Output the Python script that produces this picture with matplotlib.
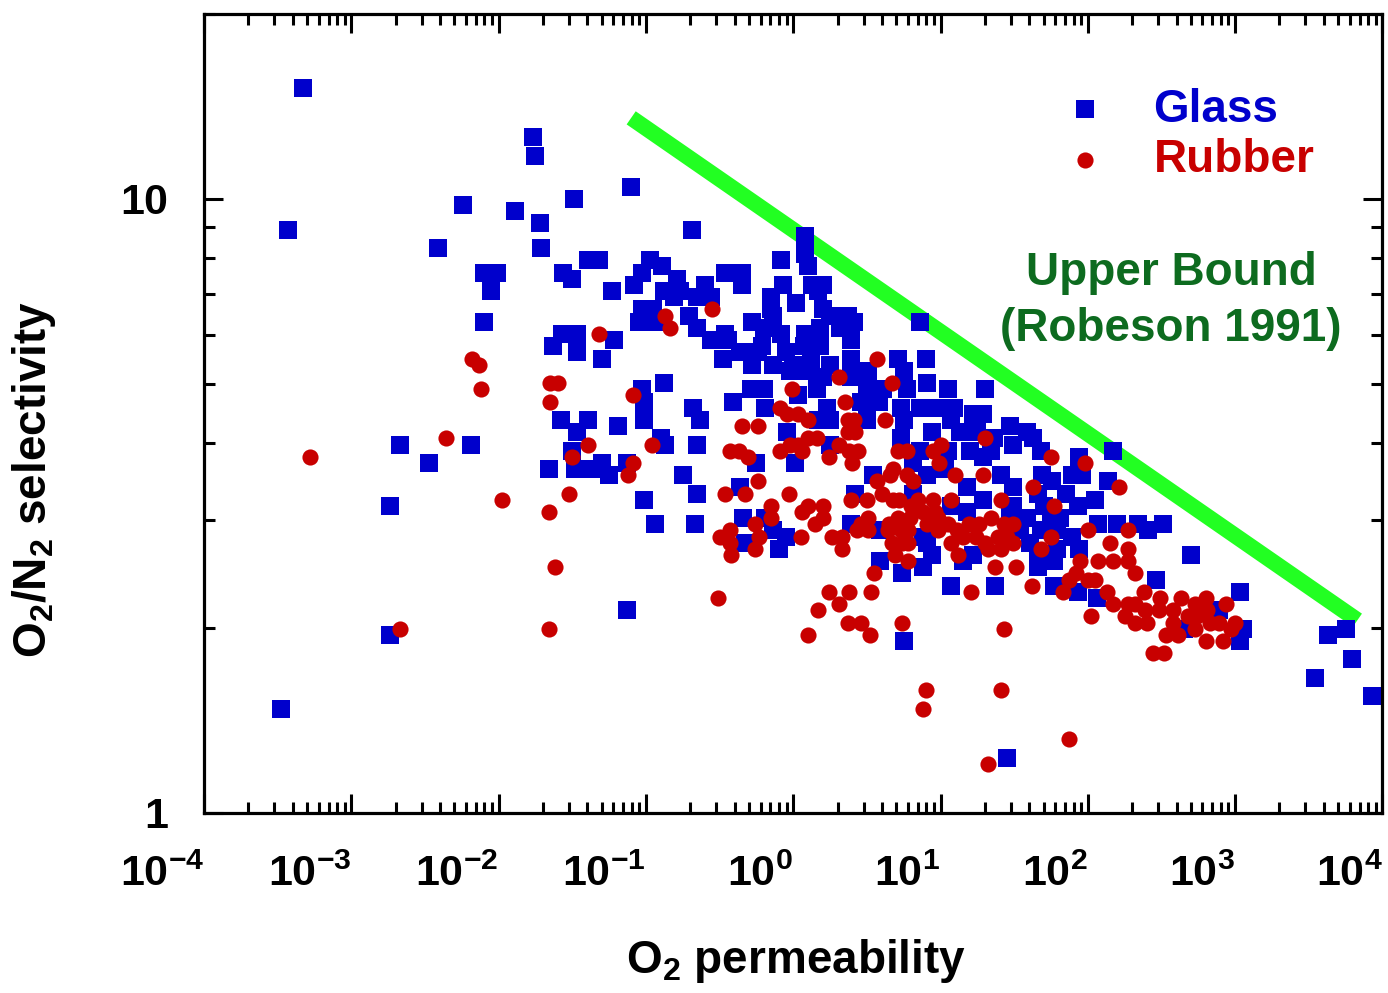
import numpy as np
import matplotlib
matplotlib.use('Agg')
from matplotlib import pyplot as plt

plt.rcParams['font.family'] = ['Liberation Sans', 'DejaVu Sans']
plt.rcParams['font.weight'] = 'bold'
plt.rcParams['mathtext.fontset'] = 'custom'
plt.rcParams['mathtext.rm'] = 'Liberation Sans:bold'
plt.rcParams['mathtext.bf'] = 'Liberation Sans:bold'
plt.rcParams['mathtext.it'] = 'Liberation Sans:bold:italic'
plt.rcParams['mathtext.default'] = 'rm'

# log10 of O2 permeability / O2/N2 selectivity
glass_logP = [
    -3.33, -2.24, -3.43, -2.41, -2.10, -2.01, -2.05, -2.10, -2.67, -2.19, -2.47, -2.74, -2.74, -3.48,
    -1.77, -1.75, -1.10, -1.49, -1.89, -1.72, -1.71, -0.69, -1.39, -1.32, -0.97, -0.89, -1.03, -1.56,
    -1.50, -1.08, -1.23, -0.79, -0.88, -0.77, -0.81, -0.65, -1.03, -0.95, -0.71, -1.05, -0.94, -0.65,
    -1.57, -1.47, -1.63, -1.47, -1.22, -1.30, -0.88, -1.03, -1.01, -0.68, -0.63, -1.58, -1.39, -1.47,
    -1.19, -1.01, -0.90, -0.87, -0.65, -1.50, -1.30, -1.13,
    -1.66, -1.48, -1.37, -1.25, -0.75, -0.65, -1.01, -0.94, -0.67, -1.13,
    0.08, 0.08, 0.10, -0.08, -0.46, -0.35, -0.35, -0.60, -0.07, -0.15, 0.13, 0.20, 0.17, -0.56,
    -0.15, 0.02, 0.20, 0.37, 0.25, -0.14, -0.28, -0.46, -0.20, -0.08, 0.08, -0.56, -0.44, 0.18,
    0.32, 0.41, -0.36, -0.21, -0.48, -0.05, 0.07, 0.18, 0.39, -0.24, -0.28, -0.14, 0.00, 0.12,
    0.25, 0.39, -0.02, 0.10, 0.20, 0.39, -0.29, -0.20, 0.03, 0.16, -0.41, -0.19, 0.23, 0.17,
    0.25, -0.04, 0.25,
    -0.25, 0.01, -0.36, 0.42, -0.34, -0.19, -0.33, -0.14, -0.05, -0.10, 0.39,
    0.86, 0.90, 0.71, 0.75, 0.91, 1.05, 1.30, 0.51, 0.50, 0.61, 0.77, 0.46, 0.58, 0.73,
    0.86, 0.98, 1.09, 1.22, 1.29, 1.47, 0.50, 0.75, 0.94, 1.07, 1.13, 1.25, 1.36, 1.49,
    0.73, 0.86, 1.05, 1.20, 1.34, 0.81, 1.03, 1.29, 0.54, 0.91, 1.41,
    1.49, 0.81, 1.18, 1.07, 1.29, 1.47, 1.18, 0.59, 0.88, 0.91, 0.94, 1.22, 0.59, 0.74,
    0.88, 1.15, 1.07, 1.37, 0.75, 1.45,
    2.17, 1.59, 1.63, 1.68, 1.94, 1.69, 1.76, 1.89, 1.96, 2.14, 1.66, 1.85, 2.05, 1.49,
    1.70, 1.93, 1.59, 1.75, 1.81, 2.07, 2.20, 2.34, 2.41, 2.51, 1.54, 1.68, 1.79, 1.89,
    1.61, 1.79, 1.94, 1.66, 1.77, 1.66, 2.46,
    1.77, 1.93, 2.06,
    2.70, 3.03, 2.89, 3.05, 3.03, 2.65, 3.63, 3.75, 3.79, 3.54, 3.93,
]
glass_logS = [
    1.18, 0.99, 0.95, 0.92, 0.88, 0.88, 0.85, 0.80, 0.60, 0.60, 0.57, 0.50, 0.29, 0.17,
    1.10, 1.07, 1.02, 1.00, 0.98, 0.96, 0.92, 0.95, 0.90, 0.90, 0.90, 0.89, 0.88, 0.88,
    0.87, 0.86, 0.85, 0.87, 0.85, 0.85, 0.84, 0.84, 0.82, 0.82, 0.81, 0.80, 0.80, 0.79,
    0.78, 0.78, 0.76, 0.75, 0.77, 0.74, 0.70, 0.69, 0.67, 0.66, 0.64, 0.64, 0.64, 0.62,
    0.63, 0.64, 0.61, 0.60, 0.60, 0.59, 0.57, 0.57,
    0.56, 0.56, 0.56, 0.55, 0.55, 0.52, 0.51, 0.47, 0.47, 0.33,
    0.94, 0.91, 0.89, 0.90, 0.88, 0.88, 0.86, 0.86, 0.86, 0.84, 0.86, 0.86, 0.85, 0.84,
    0.82, 0.83, 0.82, 0.81, 0.81, 0.81, 0.80, 0.78, 0.79, 0.78, 0.78, 0.77, 0.77, 0.79,
    0.79, 0.80, 0.75, 0.76, 0.74, 0.75, 0.76, 0.76, 0.77, 0.75, 0.73, 0.73, 0.73, 0.74,
    0.73, 0.74, 0.72, 0.72, 0.71, 0.71, 0.69, 0.69, 0.68, 0.69, 0.67, 0.66, 0.66, 0.64,
    0.64, 0.62, 0.60,
    0.57, 0.57, 0.53, 0.52, 0.48, 0.48, 0.44, 0.46, 0.45, 0.43, 0.47,
    0.80, 0.74, 0.74, 0.72, 0.70, 0.69, 0.69, 0.72, 0.69, 0.69, 0.69, 0.67, 0.67, 0.66,
    0.66, 0.66, 0.66, 0.65, 0.65, 0.63, 0.64, 0.64, 0.62, 0.64, 0.62, 0.62, 0.61, 0.60,
    0.61, 0.59, 0.59, 0.59, 0.59, 0.57, 0.56, 0.58, 0.55, 0.55, 0.55,
    0.53, 0.52, 0.53, 0.50, 0.51, 0.49, 0.49, 0.46, 0.45, 0.44, 0.42, 0.42, 0.41, 0.39,
    0.40, 0.41, 0.37, 0.37, 0.28, 0.09,
    0.59, 0.62, 0.61, 0.59, 0.58, 0.55, 0.54, 0.55, 0.55, 0.54, 0.52, 0.52, 0.51, 0.50,
    0.50, 0.50, 0.48, 0.48, 0.48, 0.47, 0.47, 0.47, 0.46, 0.47, 0.46, 0.46, 0.46, 0.45,
    0.44, 0.43, 0.43, 0.42, 0.41, 0.40, 0.38,
    0.37, 0.36, 0.35,
    0.42, 0.36, 0.33, 0.30, 0.28, 0.30, 0.29, 0.30, 0.25, 0.22, 0.19,
]

rubber_logP = [
    -2.18, -2.13, -2.12, -2.36, -3.28, -1.98, -2.67,
    -0.87, -0.84, -1.32, -1.65, -1.60, -1.65, -1.09, -1.39, -0.96, -1.50, -1.09, -1.12, -1.52,
    -1.66, -1.62, -1.66,
    -0.55, 0.31, -0.01, 0.35, -0.09, -0.04, 0.03, 0.10, 0.37, 0.41, -0.35, -0.24, 0.37, -0.43,
    -0.37, -0.31, -0.09, -0.02, 0.03, 0.10, 0.16, 0.06, 0.31, 0.38, 0.24, 0.40,
    -0.24, -0.46, -0.33, -0.03, 0.39, -0.15, -0.15, 0.10, 0.06, 0.20, 0.15, 0.20, -0.43, -0.50,
    -0.43, -0.26, -0.23, -0.26, -0.42, 0.05, 0.26, 0.33, 0.33, 0.43, -0.51, 0.24, 0.38, 0.17,
    0.31, 0.37, 0.10, 0.46,
    0.57, 0.67, 0.42, 0.62, 1.30, 0.71, 0.77, 0.95, 1.00, 0.99, 0.44, 0.68, 0.77, 1.10,
    1.29, 0.57,
    0.66, 0.81, 0.60, 0.50, 0.68, 0.72, 0.85, 0.80, 0.95, 1.07, 1.41, 0.88, 0.96, 0.46,
    0.51, 0.51, 0.65, 0.71, 0.79, 0.64, 0.73, 0.78, 0.91, 0.98, 1.05, 0.98, 0.67, 0.74,
    0.78, 1.07, 1.11, 1.19, 1.26, 1.34, 1.43, 1.49, 1.15, 1.24, 1.30, 1.39, 1.45, 1.49,
    1.32, 1.41, 1.12, 0.69, 0.78, 0.55, 1.37, 1.51, 0.53, 1.21, 0.52, 0.74, 1.43, 0.90,
    0.88, 1.41, 1.32,
    1.75, 1.98, 2.21, 1.63, 1.77, 2.27, 2.00, 1.75, 1.68, 2.15, 2.27, 1.95, 2.07, 2.17,
    2.27, 1.92, 2.00, 2.05, 2.32,
    1.87, 1.83, 2.13, 1.62, 2.17, 2.02, 2.27, 2.32, 2.25, 2.32, 2.40, 2.39, 2.38, 2.49,
    2.48, 2.58, 2.58, 2.53, 2.61, 2.44, 2.52, 1.87, 2.63,
    2.80, 2.73, 2.81, 2.94, 2.68, 2.74, 2.83, 2.89, 3.00, 2.73, 2.80, 2.92, 2.97,
]
rubber_logS = [
    0.74, 0.73, 0.69, 0.61, 0.58, 0.51, 0.30,
    0.81, 0.79, 0.78, 0.70, 0.70, 0.67, 0.68, 0.60, 0.60, 0.58, 0.57, 0.55, 0.52,
    0.49, 0.40, 0.30,
    0.82, 0.71, 0.69, 0.67, 0.66, 0.65, 0.65, 0.64, 0.64, 0.64, 0.63, 0.63, 0.62, 0.59,
    0.59, 0.58, 0.59, 0.60, 0.60, 0.61, 0.61, 0.59, 0.60, 0.59, 0.58, 0.57,
    0.54, 0.52, 0.52, 0.52, 0.51, 0.50, 0.48, 0.50, 0.49, 0.50, 0.47, 0.48, 0.46, 0.45,
    0.44, 0.47, 0.45, 0.43, 0.42, 0.45, 0.45, 0.45, 0.43, 0.46, 0.35, 0.36, 0.36, 0.33,
    0.34, 0.31, 0.29, 0.31,
    0.74, 0.70, 0.62, 0.64, 0.61, 0.59, 0.59, 0.59, 0.60, 0.57, 0.59, 0.56, 0.55, 0.55,
    0.55, 0.54,
    0.55, 0.54, 0.52, 0.51, 0.51, 0.51, 0.51, 0.50, 0.51, 0.51, 0.51, 0.49, 0.49, 0.47,
    0.48, 0.46, 0.47, 0.48, 0.48, 0.46, 0.46, 0.46, 0.47, 0.48, 0.47, 0.46, 0.44, 0.44,
    0.44, 0.44, 0.46, 0.47, 0.47, 0.48, 0.47, 0.47, 0.45, 0.45, 0.44, 0.45, 0.45, 0.44,
    0.43, 0.43, 0.42, 0.42, 0.41, 0.39, 0.40, 0.40, 0.36, 0.36, 0.29, 0.31, 0.30, 0.20,
    0.17, 0.20, 0.08,
    0.58, 0.57, 0.53, 0.53, 0.50, 0.46, 0.46, 0.45, 0.43, 0.44, 0.43, 0.41, 0.41, 0.41,
    0.41, 0.39, 0.38, 0.38, 0.39,
    0.38, 0.36, 0.36, 0.37, 0.34, 0.32, 0.34, 0.34, 0.32, 0.31, 0.31, 0.33, 0.36, 0.35,
    0.33, 0.33, 0.31, 0.29, 0.29, 0.26, 0.26, 0.12, 0.35,
    0.35, 0.34, 0.33, 0.34, 0.32, 0.32, 0.31, 0.31, 0.31, 0.30, 0.28, 0.28, 0.30,
]

# Robeson 1991 upper bound, end points
bound_P = [0.0794, 6760.0]
bound_sel = [13.55, 2.06]

x_ticks = [1e-4, 1e-3, 1e-2, 1e-1, 1e0, 1e1, 1e2, 1e3, 1e4]
x_ticklabels = [r'$10^{-4}$', r'$10^{-3}$', r'$10^{-2}$', r'$10^{-1}$', r'$10^{0}$',
                r'$10^{1}$', r'$10^{2}$', r'$10^{3}$', r'$10^{4}$']
y_ticks = [1, 10]
y_ticklabels = ['1', '10']

BLUE = '#0000cc'
RED = '#c80000'
GREEN_LINE = '#22ff22'
GREEN_TEXT = '#0d6b1f'

fig = plt.figure(figsize=(13.88, 9.93), dpi=100)
ax = fig.add_axes([0.147, 0.1813, 0.849, 0.8046])

ax.plot(bound_P, bound_sel, color=GREEN_LINE, lw=11.5, solid_capstyle='butt', zorder=1)
ax.scatter(10 ** np.array(glass_logP), 10 ** np.array(glass_logS), marker='s', s=150,
           color=BLUE, linewidths=0, zorder=2, label='Glass')
ax.scatter(10 ** np.array(rubber_logP), 10 ** np.array(rubber_logS), marker='o', s=135,
           color=RED, linewidths=0, zorder=3, label='Rubber')

ax.set_xscale('log')
ax.set_yscale('log')
ax.set_xlim(1e-4, 1e4)
ax.set_ylim(1, 20)

ax.set_xticks(x_ticks)
ax.set_xticklabels(x_ticklabels, ha='right')
ax.set_yticks(y_ticks)
ax.set_yticklabels(y_ticklabels)

for s in ax.spines.values():
    s.set_linewidth(2.3)
ax.tick_params(which='both', direction='in', top=True, right=True, width=2.2)
ax.tick_params(which='major', length=14)
ax.tick_params(which='minor', length=8)
ax.tick_params(axis='x', which='major', labelsize=31, pad=30)
ax.tick_params(axis='y', which='major', labelsize=31, pad=26)
ax.tick_params(axis='y', which='minor', labelleft=False)

ax.set_xlabel(r'O$_2$ permeability', fontsize=33, fontweight='bold')
ax.set_ylabel(r'O$_2$/N$_2$ selectivity', fontsize=33, fontweight='bold')
ax.xaxis.set_label_coords(0.502, -0.155)
ax.yaxis.set_label_coords(-0.124, 0.417)

ax.text(0.821, 0.676, 'Upper Bound', transform=ax.transAxes, ha='center', va='center',
        fontsize=33, fontweight='bold', color=GREEN_TEXT)
ax.text(0.820, 0.606, '(Robeson 1991)', transform=ax.transAxes, ha='center', va='center',
        fontsize=33, fontweight='bold', color=GREEN_TEXT)

ax.legend(loc='upper left', bbox_to_anchor=(0.728, 0.908), frameon=False, scatterpoints=1,
          handlelength=1.0, handletextpad=1.0, borderaxespad=0, borderpad=0,
          labelspacing=0.15, labelcolor=[BLUE, RED],
          prop={'size': 33, 'weight': 'bold'})

fig.savefig('out.png', dpi=100)
